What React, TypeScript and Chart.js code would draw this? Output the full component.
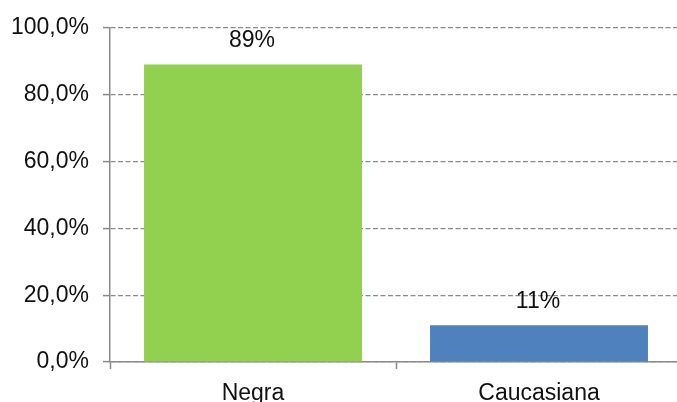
import React, { useEffect, useRef } from "react";
import { Chart, registerables } from "chart.js";

Chart.register(...registerables);

const categories = ["Negra", "Caucasiana"];
const values = [89, 11];
const barColors = ["#92D050", "#4F81BD"];
const valueLabels = ["89%", "11%"];
const yTicks = [0, 20, 40, 60, 80, 100];

const GRAY = "#8a8a8a";
const FONT = "'Liberation Sans', Arial, sans-serif";

const valueLabelPlugin = {
  id: "valueLabels",
  afterDatasetsDraw(chart: any) {
    const { ctx } = chart;
    const meta = chart.getDatasetMeta(0);
    ctx.save();
    ctx.font = `23px ${FONT}`;
    ctx.fillStyle = "#111";
    ctx.textAlign = "center";
    ctx.textBaseline = "alphabetic";
    meta.data.forEach((bar: any, i: number) => {
      ctx.fillText(valueLabels[i], bar.x - 1, bar.y - 17.5);
    });
    ctx.restore();
  },
};

export default function App() {
  const ref = useRef<HTMLCanvasElement>(null);

  useEffect(() => {
    if (!ref.current) return;
    const chart = new Chart(ref.current, {
      type: "bar",
      data: {
        labels: categories,
        datasets: [
          {
            data: values,
            backgroundColor: barColors,
            borderWidth: 0,
            barPercentage: 0.762,
            categoryPercentage: 1,
          },
        ],
      },
      options: {
        responsive: false,
        animation: false,
        devicePixelRatio: 1,
        layout: { padding: { top: 24, left: 0, right: 0, bottom: 0 } },
        plugins: {
          legend: { display: false },
          tooltip: { enabled: false },
        },
        scales: {
          x: {
            grid: {
              drawOnChartArea: false,
              drawTicks: true,
              tickLength: 7,
              tickColor: GRAY,
              tickWidth: 1.5,
              offset: true,
            },
            border: { display: true, color: GRAY, width: 1.5 },
            ticks: {
              color: "#111",
              font: { family: FONT, size: 23 },
              padding: 11,
              maxRotation: 0,
            },
            afterFit(scale: any) {
              scale.height = 40;
            },
          },
          y: {
            min: 0,
            max: 100,
            afterBuildTicks(scale: any) {
              scale.ticks = yTicks.map((v) => ({ value: v }));
            },
            grid: {
              color: GRAY,
              lineWidth: 1.2,
              tickLength: 7,
              tickColor: GRAY,
              tickWidth: 1.5,
              tickBorderDash: [],
            },
            border: { display: true, color: GRAY, width: 1.5, dash: [5, 2.5] },
            ticks: {
              color: "#111",
              font: { family: FONT, size: 23 },
              padding: 14,
              callback: (v: any) => Number(v).toFixed(1).replace(".", ",") + "%",
            },
            afterFit(scale: any) {
              scale.width = 110;
            },
          },
        },
      },
      plugins: [valueLabelPlugin],
    });
    return () => chart.destroy();
  }, []);

  return (
    <div
      style={{
        position: "fixed",
        left: 0,
        top: 0,
        width: 677,
        height: 402,
        overflow: "hidden",
        background: "#fff",
      }}
    >
      <canvas ref={ref} width={682} height={402} style={{ display: "block" }} />
    </div>
  );
}
